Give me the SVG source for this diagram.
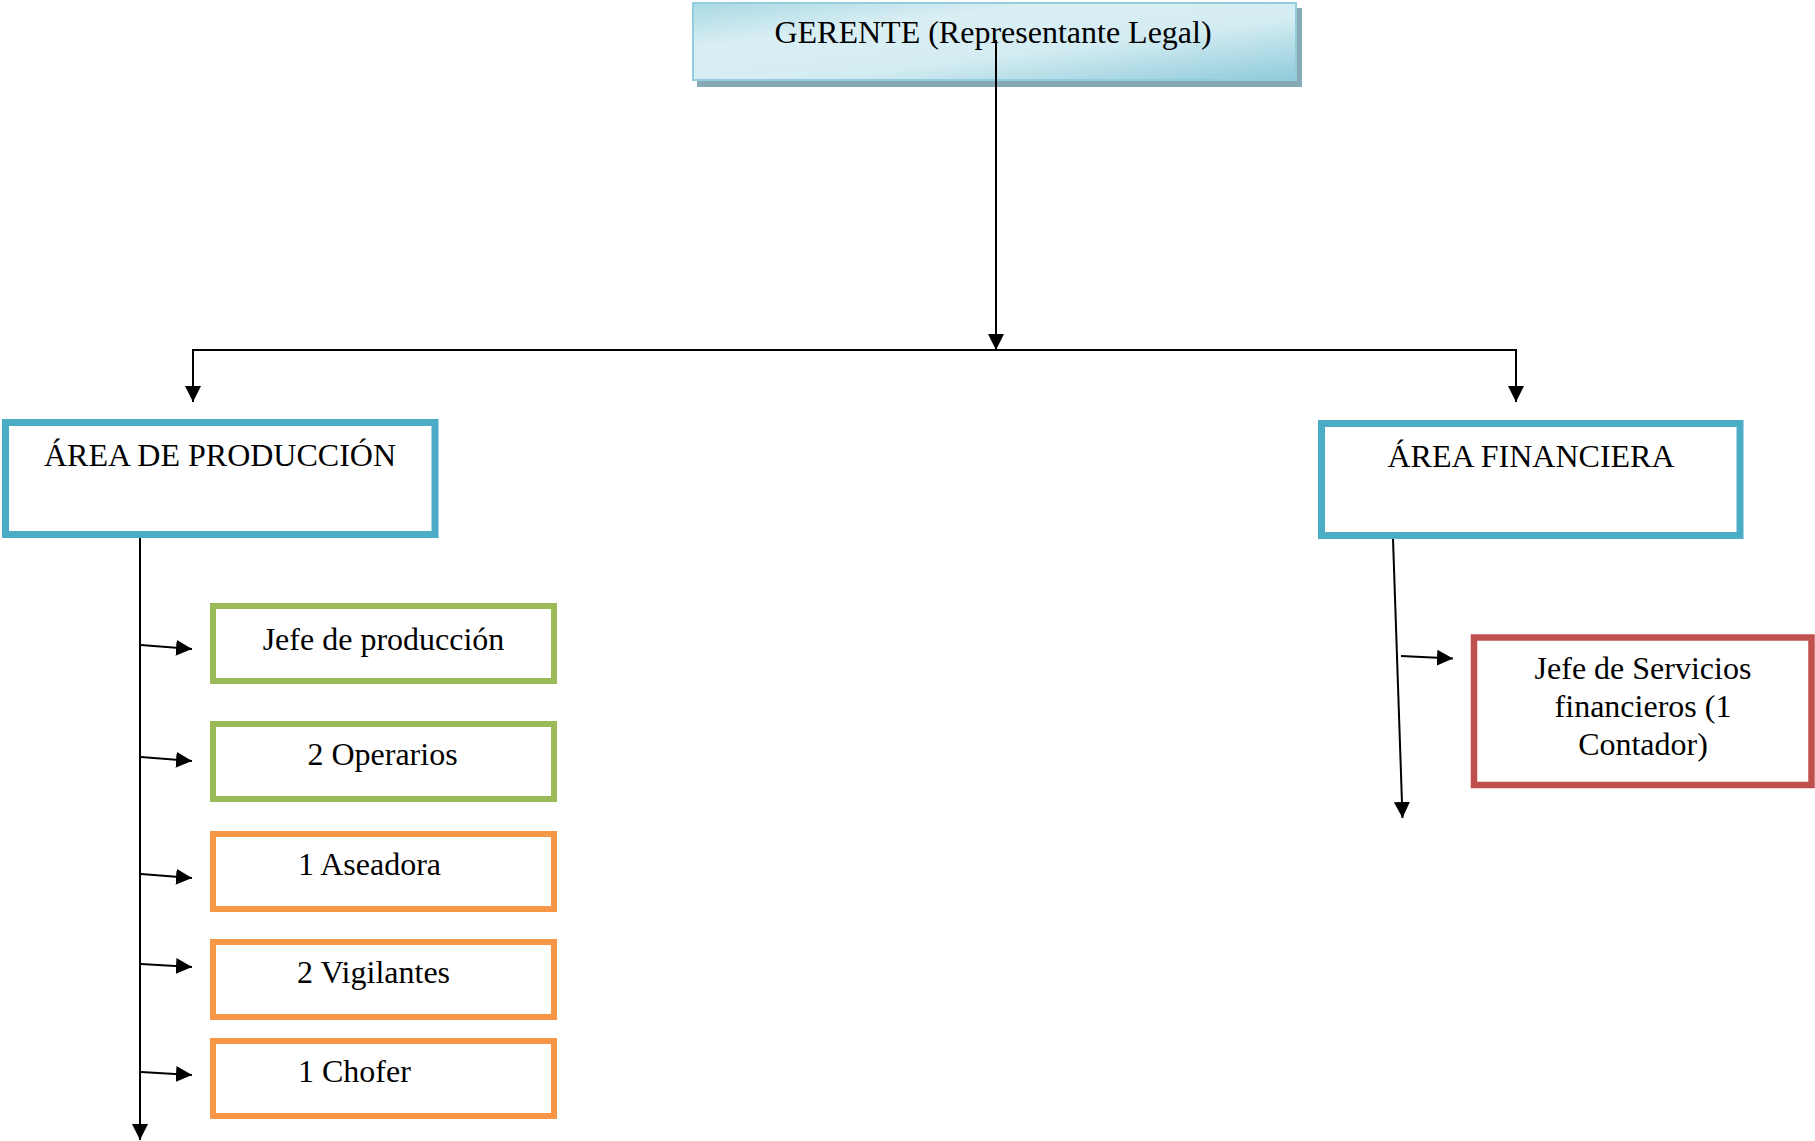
<svg xmlns="http://www.w3.org/2000/svg" width="1815" height="1141" viewBox="0 0 1815 1141">
<style>
  text { font-family: "Liberation Serif", "Times New Roman", serif; font-size: 32px; fill: #000; }
  .conn { stroke: #000; stroke-width: 2; fill: none; }
  .blue { fill: #fff; stroke: #4bacc6; stroke-width: 7; }
  .green { fill: #fff; stroke: #9bbb59; stroke-width: 6; }
  .orange { fill: #fff; stroke: #f79646; stroke-width: 6; }
  .red { fill: #fff; stroke: #c0504d; stroke-width: 6.5; }
</style>
<defs>
  <linearGradient id="gerGrad" x1="0" y1="0" x2="1" y2="1">
    <stop offset="0" stop-color="#a9d9e4"/>
    <stop offset="0.3" stop-color="#daeff4"/>
    <stop offset="0.6" stop-color="#d3ecf2"/>
    <stop offset="1" stop-color="#8fcbda"/>
  </linearGradient>
  <marker id="arr" markerUnits="userSpaceOnUse" markerWidth="17" markerHeight="17" refX="16" refY="8" orient="auto">
    <path d="M0,0 L16,8 L0,16 z" fill="#000"/>
  </marker>
</defs>

<g id="gerente">
  <rect x="697" y="8" width="605" height="79" fill="#86a9b6"/>
  <rect x="693" y="3" width="603" height="77" fill="url(#gerGrad)" stroke="#93cddd" stroke-width="2"/>
  <text x="993" y="43" text-anchor="middle">GERENTE (Representante Legal)</text>
</g>

<g id="area-produccion">
  <rect class="blue" x="5.5" y="422.5" width="429.5" height="112"/>
  <text x="220" y="466" text-anchor="middle">ÁREA DE PRODUCCIÓN</text>
</g>

<g id="area-financiera">
  <rect class="blue" x="1321.5" y="423.5" width="418.5" height="112"/>
  <text x="1531" y="467" text-anchor="middle">ÁREA FINANCIERA</text>
</g>

<g id="jefe-produccion">
  <rect class="green" x="213" y="606" width="341" height="75"/>
  <text x="383.5" y="650" text-anchor="middle">Jefe de producción</text>
</g>

<g id="operarios">
  <rect class="green" x="213" y="724" width="341" height="75"/>
  <text x="382.5" y="765" text-anchor="middle">2 Operarios</text>
</g>

<g id="aseadora">
  <rect class="orange" x="213" y="834" width="341" height="75"/>
  <text x="298" y="875">1 Aseadora</text>
</g>

<g id="vigilantes">
  <rect class="orange" x="213" y="942" width="341" height="75"/>
  <text x="297" y="983">2 Vigilantes</text>
</g>

<g id="chofer">
  <rect class="orange" x="213" y="1041" width="341" height="75"/>
  <text x="298" y="1082">1 Chofer</text>
</g>

<g id="jefe-servicios-financieros">
  <rect class="red" x="1474" y="637.5" width="337.5" height="147.5"/>
  <text x="1643" y="679" text-anchor="middle">Jefe de Servicios</text>
  <text x="1643" y="717" text-anchor="middle">financieros (1</text>
  <text x="1643" y="755" text-anchor="middle">Contador)</text>
</g>

<g id="connectors">
  <line class="conn" x1="996" y1="40" x2="996" y2="350" marker-end="url(#arr)"/>
  <polyline class="conn" points="193,402 193,350 1516,350 1516,402" marker-end="url(#arr)"/>
  <line class="conn" x1="193" y1="350" x2="193" y2="402" marker-end="url(#arr)"/>
  <line class="conn" x1="140" y1="538" x2="140" y2="1140" marker-end="url(#arr)"/>
  <line class="conn" x1="141" y1="645" x2="192" y2="649" marker-end="url(#arr)"/>
  <line class="conn" x1="141" y1="757" x2="192" y2="761" marker-end="url(#arr)"/>
  <line class="conn" x1="141" y1="874" x2="192" y2="878" marker-end="url(#arr)"/>
  <line class="conn" x1="141" y1="964" x2="192" y2="967" marker-end="url(#arr)"/>
  <line class="conn" x1="141" y1="1072" x2="192" y2="1075" marker-end="url(#arr)"/>
  <line class="conn" x1="1393" y1="539" x2="1402.5" y2="818" marker-end="url(#arr)"/>
  <line class="conn" x1="1401" y1="656" x2="1453" y2="658.5" marker-end="url(#arr)"/>
</g>
</svg>
